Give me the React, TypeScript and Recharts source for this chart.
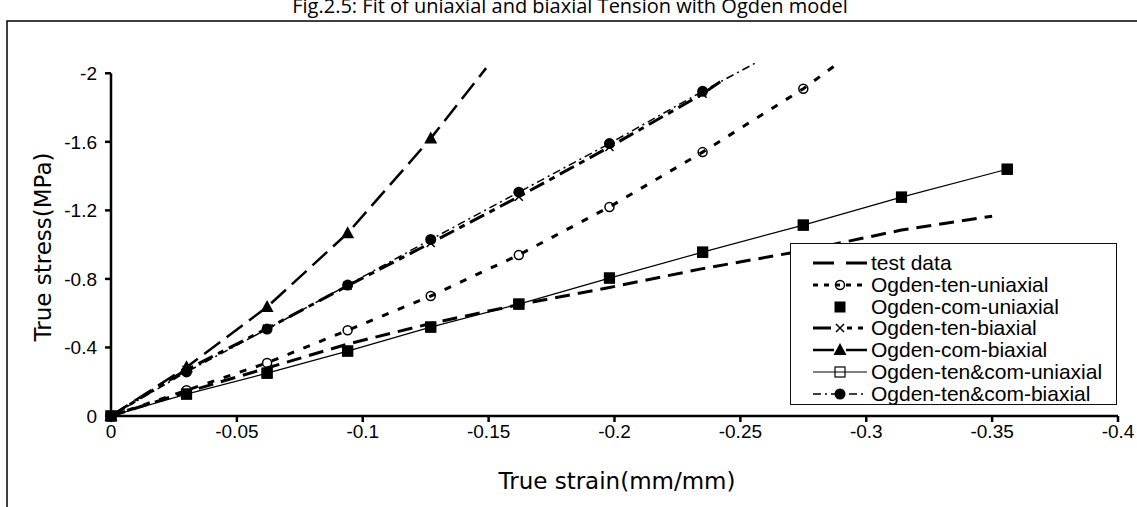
import React from 'react';
import {
  ComposedChart,
  Line,
  Scatter,
  XAxis,
  YAxis,
  Legend,
  ReferenceLine,
} from 'recharts';

// axis ticks
const xTicks = [0, -0.05, -0.1, -0.15, -0.2, -0.25, -0.3, -0.35, -0.4];
const yTicks = [0, -0.4, -0.8, -1.2, -1.6, -2];

// strain values (mm/mm)
const modelStrain = [0, -0.03, -0.062, -0.094, -0.127, -0.162, -0.198, -0.235, -0.275, -0.314, -0.356];
const testStrain = [0, -0.03, -0.062, -0.094, -0.127, -0.162, -0.198, -0.235, -0.275, -0.314, -0.35];

// true stress values (MPa)
const testStress = [0, -0.14, -0.28, -0.42, -0.54, -0.65, -0.75, -0.86, -0.965, -1.085, -1.166];
const tenUniStress = [0, -0.15, -0.31, -0.5, -0.7, -0.94, -1.22, -1.54, -1.91];
const comUniStress = [0, -0.128, -0.25, -0.379, -0.519, -0.653, -0.805, -0.956, -1.114, -1.277, -1.44];
const tenBiStress = [0, -0.27, -0.51, -0.76, -1.01, -1.28, -1.57, -1.88];
const comBiStress = [0, -0.285, -0.636, -1.067, -1.62];
const tenComUniStress = [0, -0.128, -0.25, -0.379, -0.519, -0.653, -0.805, -0.956, -1.114, -1.277, -1.44];
const tenComBiStress = [0, -0.257, -0.507, -0.764, -1.03, -1.306, -1.59, -1.895];

// last point of each curve where it runs out of the plot [strain, stress]
const tenUniEnd = [-0.288, -2.05];
const tenBiEnd = [-0.242, -1.95];
const comBiEnd = [-0.149, -2.03];
const tenComBiEnd = [-0.256, -2.06];

type MarkerKind = 'none' | 'openCircle' | 'square' | 'cross' | 'triangle' | 'openSquare' | 'circle';

interface SeriesDef {
  name: string;
  strain: number[];
  stress: number[];
  end: number[] | null;
  dash?: string;
  legendDash?: string;
  width: number;
  marker: MarkerKind;
}

const series: SeriesDef[] = [
  { name: 'test data', strain: testStrain, stress: testStress, end: null, dash: '15 8', legendDash: '21 12', width: 3, marker: 'none' },
  { name: 'Ogden-ten-uniaxial', strain: modelStrain, stress: tenUniStress, end: tenUniEnd, dash: '7 10', legendDash: '5 6', width: 3, marker: 'openCircle' },
  { name: 'Ogden-com-uniaxial', strain: modelStrain, stress: comUniStress, end: null, width: 0, marker: 'square' },
  { name: 'Ogden-ten-biaxial', strain: modelStrain, stress: tenBiStress, end: tenBiEnd, dash: '16 6 6 6', legendDash: '18 16 5 6 5 6', width: 3, marker: 'cross' },
  { name: 'Ogden-com-biaxial', strain: modelStrain, stress: comBiStress, end: comBiEnd, dash: '20 8', legendDash: '21 12', width: 2.5, marker: 'triangle' },
  { name: 'Ogden-ten&com-uniaxial', strain: modelStrain, stress: tenComUniStress, end: null, width: 1.2, marker: 'openSquare' },
  { name: 'Ogden-ten&com-biaxial', strain: modelStrain, stress: tenComBiStress, end: tenComBiEnd, dash: '8 4 2 4', legendDash: '8 4 2 4', width: 1.5, marker: 'circle' },
];

// filled squares sit on top of the thin solid line
const drawOrder = [0, 1, 5, 2, 3, 4, 6];

const points = (s: SeriesDef) => s.stress.map((y, i) => ({ x: s.strain[i], y }));
const curve = (s: SeriesDef) => (s.end ? [...points(s), { x: s.end[0], y: s.end[1] }] : points(s));

const Marker = ({ kind, cx, cy }: { kind: MarkerKind; cx: number; cy: number }) => {
  switch (kind) {
    case 'openCircle':
      return <circle cx={cx} cy={cy} r={4.5} fill="none" stroke="#000" strokeWidth={1.5} />;
    case 'circle':
      return <circle cx={cx} cy={cy} r={5.5} fill="#000" />;
    case 'square':
      return <rect x={cx - 5.5} y={cy - 5.5} width={11} height={11} fill="#000" />;
    case 'openSquare':
      return <rect x={cx - 5} y={cy - 5} width={10} height={10} fill="none" stroke="#000" strokeWidth={1.2} />;
    case 'triangle':
      return <polygon points={`${cx},${cy - 7} ${cx + 6.5},${cy + 5} ${cx - 6.5},${cy + 5}`} fill="#000" />;
    case 'cross':
      return (
        <path
          d={`M${cx - 4},${cy - 4}L${cx + 4},${cy + 4}M${cx + 4},${cy - 4}L${cx - 4},${cy + 4}`}
          stroke="#000"
          strokeWidth={1.5}
        />
      );
    default:
      return <g />;
  }
};

const tickFont = { fontFamily: 'Liberation Sans, Arial, sans-serif', fontSize: 19, fill: '#000' };
const titleFont = { fontFamily: 'DejaVu Sans, Verdana, sans-serif', fontSize: 23, fill: '#000' };

const XTick = (props: any) => (
  <text x={props.x} y={props.y} textAnchor="middle" dy="0.71em" {...tickFont}>
    {String(props.payload.value)}
  </text>
);

const YTick = (props: any) => (
  <text x={props.x} y={props.y} textAnchor="end" dy="0.355em" {...tickFont}>
    {String(props.payload.value)}
  </text>
);

const XTitle = () => (
  <text x={617} y={481} textAnchor="middle" dominantBaseline="central" {...titleFont}>
    True strain(mm/mm)
  </text>
);

const YTitle = () => (
  <text transform="translate(43,247) rotate(-90)" textAnchor="middle" dominantBaseline="central" {...titleFont}>
    True stress(MPa)
  </text>
);

const LegendBox = () => (
  <div
    style={{
      boxSizing: 'border-box',
      width: 327,
      height: 162,
      border: '1.5px solid #111',
      background: '#fff',
      paddingTop: 8,
      fontFamily: 'Liberation Sans, Arial, sans-serif',
      fontSize: 21,
      color: '#000',
    }}
  >
    {series.map((s) => (
      <div key={s.name} style={{ position: 'relative', height: 21.8, lineHeight: '21.8px' }}>
        <svg width={60} height={22} style={{ position: 'absolute', left: 20, top: 0 }}>
          {s.width > 0 && (
            <line x1={2} x2={56} y1={11} y2={11} stroke="#000" strokeWidth={s.width} strokeDasharray={s.legendDash} />
          )}
          <Marker kind={s.marker} cx={29} cy={11} />
        </svg>
        <span style={{ position: 'absolute', left: 80, top: 0, whiteSpace: 'nowrap' }}>{s.name}</span>
      </div>
    ))}
  </div>
);

export default function App() {
  return (
    <div style={{ position: 'absolute', left: 0, top: 0, width: 1137, height: 507, background: '#fff', overflow: 'hidden' }}>
      <svg width={1137} height={507} style={{ position: 'absolute', left: 0, top: 0 }}>
        <rect x={7} y={21} width={1150} height={520} fill="none" stroke="#000" strokeWidth={1.5} />
        <text x={570} y={13} textAnchor="middle" fontFamily="Open Sans, sans-serif" fontSize={20} fill="#000">
          Fig.2.5: Fit of uniaxial and biaxial Tension with Ogden model
        </text>
      </svg>
      <div style={{ position: 'absolute', left: 0, top: 0 }}>
        <ComposedChart width={1137} height={507} margin={{ top: 63, right: 19, bottom: 0, left: 0 }}>
          <XAxis
            type="number"
            dataKey="x"
            domain={[-0.4, 0]}
            reversed
            ticks={xTicks}
            interval={0}
            height={91}
            tickSize={6}
            tickMargin={3}
            axisLine={{ stroke: '#000', strokeWidth: 2.5 }}
            tickLine={{ stroke: '#000', strokeWidth: 2.5 }}
            tick={XTick}
            label={XTitle}
          />
          <YAxis
            type="number"
            dataKey="y"
            domain={[-2.06, 0]}
            reversed
            ticks={yTicks}
            interval={0}
            width={111}
            tickSize={6}
            tickMargin={8}
            axisLine={false}
            tickLine={{ stroke: '#000', strokeWidth: 2.5 }}
            tick={YTick}
            label={YTitle}
          />
          <ReferenceLine
            segment={[{ x: 0, y: 0 }, { x: 0, y: -2 }]}
            stroke="#000"
            strokeWidth={2.5}
            ifOverflow="visible"
          />
          {drawOrder.map((i) => {
            const s = series[i];
            return (
              <React.Fragment key={s.name}>
                {s.width > 0 && (
                  <Line
                    data={curve(s)}
                    dataKey="y"
                    name={s.name}
                    type="linear"
                    stroke="#000"
                    strokeWidth={s.width}
                    strokeDasharray={s.dash}
                    dot={false}
                    activeDot={false}
                    isAnimationActive={false}
                  />
                )}
                {s.marker !== 'none' && (
                  <Scatter
                    data={points(s)}
                    name={s.name + ' markers'}
                    shape={(p: any) => <Marker kind={s.marker} cx={p.cx} cy={p.cy} />}
                    isAnimationActive={false}
                  />
                )}
              </React.Fragment>
            );
          })}
          <Legend
            layout="horizontal"
            verticalAlign="middle"
            align="center"
            wrapperStyle={{ left: 790, top: 243, width: 327, height: 162 }}
            content={() => <LegendBox />}
          />
        </ComposedChart>
      </div>
    </div>
  );
}
